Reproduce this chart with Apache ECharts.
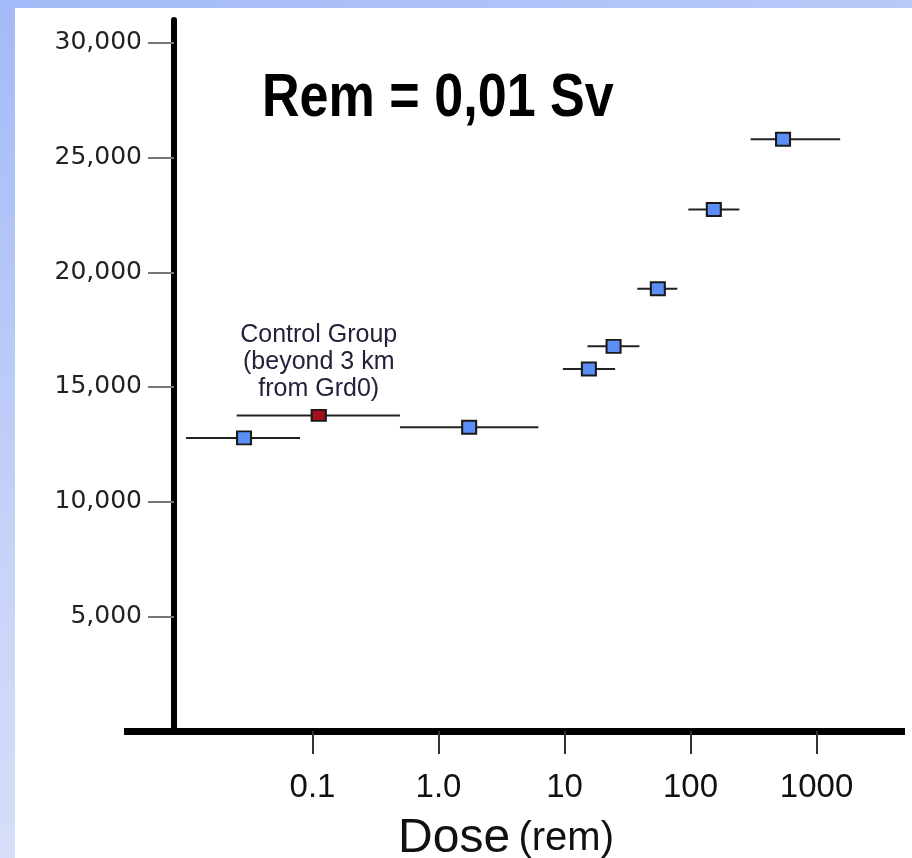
<!DOCTYPE html>
<html>
<head>
<meta charset="utf-8">
<script src="https://cdn.jsdelivr.net/npm/echarts@6/dist/echarts.min.js"></script>
<style>
html,body{margin:0;padding:0;width:912px;height:858px;overflow:hidden;}
body{background:linear-gradient(160deg,#a3baf8 0%,#c9d5f8 50%,#e6e9f8 100%);position:relative;}
#paper{position:absolute;left:15px;top:8px;right:0;bottom:0;background:#ffffff;}
#chart{position:absolute;left:0;top:0;width:912px;height:858px;}
</style>
</head>
<body>
<div id="paper"></div>
<div id="chart"></div>
<script>
// Exposed groups (blue squares)
const doseCenter = [0.0286, 1.75, 15.6, 24.5, 55, 153, 542];
const doseLow    = [0.0099, 0.494, 9.7, 15.2, 37.8, 96, 300];
const doseHigh   = [0.0796, 6.2, 25.2, 39.3, 78.5, 244, 1540];
const counts     = [12780, 13240, 15780, 16770, 19280, 22740, 25800];
// Control group (red square)
const ctrlCenter = [0.112];
const ctrlLow    = [0.025];
const ctrlHigh   = [0.494];
const ctrlCounts = [13760];
// Axis ticks
const xTickValues = [0.1, 1, 10, 100, 1000];
const xTickLabels = ['0.1', '1.0', '10', '100', '1000'];
const yTickValues = [5000, 10000, 15000, 20000, 25000, 30000];
const yTickLabels = ['5,000', '10,000', '15,000', '20,000', '25,000', '30,000'];

const allLow = doseLow.concat(ctrlLow);
const allHigh = doseHigh.concat(ctrlHigh);
const allCounts = counts.concat(ctrlCounts);
const barData = allLow.map((lo, i) => [lo, allCounts[i], allHigh[i]]);

const chart = echarts.init(document.getElementById('chart'), null, {renderer: 'canvas'});
chart.setOption({
  backgroundColor: 'transparent',
  animation: false,
  graphic: [{
    type: 'text', left: 262, top: 68, scaleX: 0.84, z: 10,
    style: {text: 'Rem = 0,01 Sv', font: "bold 62px 'Liberation Sans', Arial", fill: '#000'}
  }],
  grid: {left: 124, right: 7, top: 20, bottom: 127, outerBoundsMode: 'none', containLabel: false},
  xAxis: {
    type: 'log', logBase: 10, min: 0.00319, max: 5035,
    axisLine: {show: true, lineStyle: {color: '#000', width: 7, cap: 'butt'}},
    axisTick: {show: true, customValues: xTickValues, length: 23, lineStyle: {color: '#333', width: 2}},
    axisLabel: {
      customValues: xTickValues, margin: 40, fontSize: 33, color: '#111',
      fontFamily: "'Liberation Sans', Arial",
      formatter: v => { const i = xTickValues.findIndex(t => Math.abs(Math.log10(t) - Math.log10(v)) < 1e-6); return i >= 0 ? xTickLabels[i] : ''; }
    },
    splitLine: {show: false},
    minorTick: {show: false},
    name: '{a|Dose} {b|(rem)}',
    nameLocation: 'middle', nameGap: 84,
    nameTextStyle: {
      fontSize: 30,
      padding: [0, 17, 0, 0],
      rich: {
        a: {fontSize: 48, fontFamily: "'Liberation Sans', Arial", color: '#111'},
        b: {fontSize: 40, fontFamily: "'Liberation Sans', Arial", color: '#111'}
      }
    }
  },
  yAxis: {
    type: 'value', min: 0, max: 31000, offset: -50,
    axisLine: {show: true, lineStyle: {color: '#000', width: 6}},
    axisTick: {show: true, customValues: yTickValues, length: 26, lineStyle: {color: '#777', width: 2}},
    axisLabel: {
      customValues: yTickValues, margin: 32, fontSize: 25, color: '#222',
      fontFamily: "'DejaVu Sans', Verdana",
      formatter: v => { const i = yTickValues.indexOf(v); return i >= 0 ? yTickLabels[i] : ''; }
    },
    splitLine: {show: false}
  },
  series: [
    {
      type: 'custom',
      data: barData,
      encode: {x: [0, 2], y: 1},
      clip: false,
      z: 2,
      renderItem: function (params, api) {
        const y = api.value(1);
        const a = api.coord([api.value(0), y]);
        const b = api.coord([api.value(2), y]);
        return {type: 'line', shape: {x1: a[0], y1: a[1], x2: b[0], y2: b[1]}, style: {stroke: '#222', lineWidth: 2}};
      }
    },
    {
      type: 'scatter',
      data: doseCenter.map((d, i) => [d, counts[i]]),
      symbol: 'rect', symbolSize: [14, 13],
      itemStyle: {color: '#5c8ff5', borderColor: '#1a1a1a', borderWidth: 2, opacity: 1},
      z: 5
    },
    {
      type: 'scatter',
      data: ctrlCenter.map((d, i) => [d, ctrlCounts[i]]),
      symbol: 'rect', symbolSize: [14, 11],
      itemStyle: {color: '#a5101a', borderColor: '#1a1a1a', borderWidth: 2, opacity: 1},
      label: {
        show: true, position: 'top', distance: 6,
        formatter: 'Control Group\n(beyond 3 km\nfrom Grd0)',
        fontSize: 25, lineHeight: 27, align: 'center', color: '#22223a',
        fontFamily: "'Liberation Sans', Arial"
      },
      z: 5
    }
  ]
});
</script>
</body>
</html>
